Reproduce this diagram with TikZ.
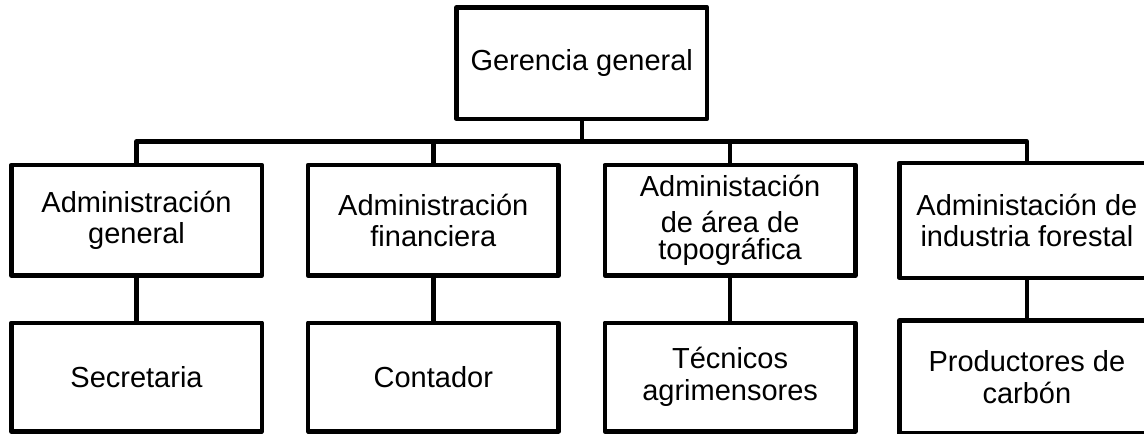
\documentclass[tikz,border=0pt]{standalone}
\usepackage{fontspec}
\setmainfont{Liberation Sans}
\begin{document}
\begin{tikzpicture}[x=1pt,y=-1pt,
  box/.style={draw=black, line width=4.5pt, line join=round, fill=white, inner sep=0pt,
    minimum width=250.5pt, align=center, font=\fontsize{29}{31.5}\selectfont},
  openbox/.style={box, draw=none},
  conn/.style={draw=black, line width=4.5pt, line join=round}]
\useasboundingbox (0,0) rectangle (1144,434);
\clip (0,0) rectangle (1144,434);
\fill[white] (0,0) rectangle (1144,434);
\coordinate (bus) at (0,141.5);
\node[box, minimum height=111.5pt] (g) at (581.75,63) {Gerencia general};
\node[box, minimum height=110.5pt] (a1) at (136.5,220.25) {Administración\\general};
\node[box, minimum height=110.5pt] (a2) at (433.3,220.25) {Administración\\financiera};
\node[box, minimum height=110.5pt, font=\fontsize{29}{36}\selectfont] (a3) at (730.1,220.25) {Administación\\de área de\\[-8.5pt]topográfica};
\node[openbox, minimum height=110.5pt] (a4) at (1026.9,220.25) {Administación de\\industria forestal};
\node[box, minimum height=108.5pt] (b1) at (136.5,377) {Secretaria};
\node[box, minimum height=108.5pt] (b2) at (433.3,377) {Contador};
\node[box, minimum height=108.5pt] (b3) at (730.1,377) {Técnicos\\agrimensores};
\node[openbox, minimum height=108.5pt] (b4) at (1026.9,377) {Productores de\\carbón};
\draw[conn] (a4.north east) -- (a4.north west) -- (a4.south west) -- (a4.south east);
\draw[conn] (b4.north east) -- (b4.north west) -- (b4.south west) -- (b4.south east);
\draw[conn] (g.south) -- (g.south |- bus);
\draw[conn] (a1.north) |- (a4.north |- bus) -- (a4.north);
\draw[conn] (a2.north) -- (a2.north |- bus);
\draw[conn] (a3.north) -- (a3.north |- bus);
\draw[conn] (a1.south) -- (b1.north);
\draw[conn] (a2.south) -- (b2.north);
\draw[conn] (a3.south) -- (b3.north);
\draw[conn] (a4.south) -- (b4.north);
\end{tikzpicture}
\end{document}
